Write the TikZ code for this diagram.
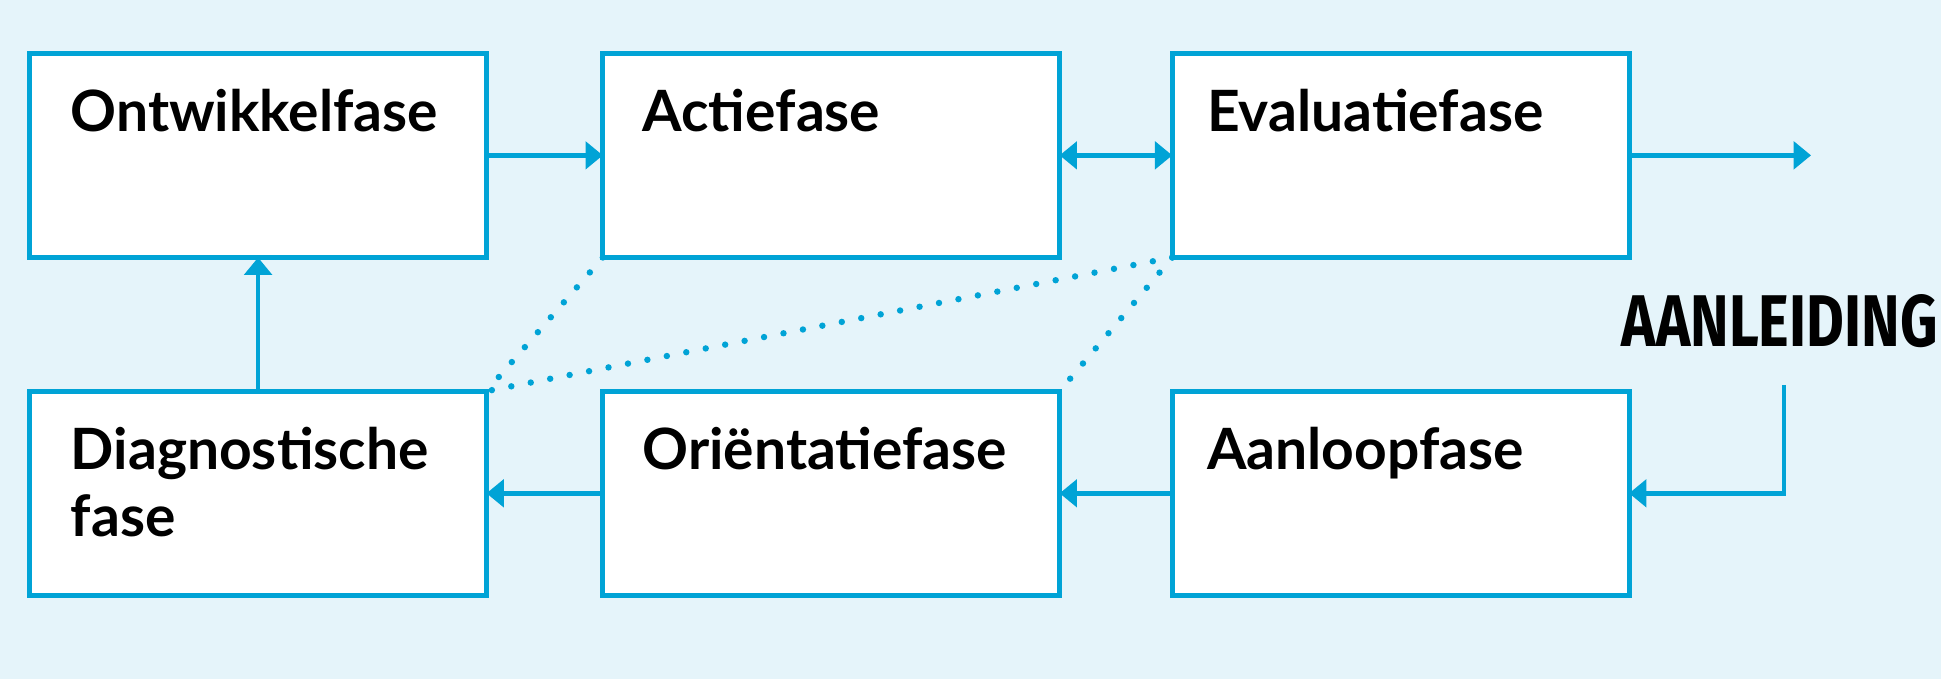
\documentclass[tikz,border=0pt]{standalone}
\usepackage{fontspec}
\setmainfont{Lato}
\newfontfamily\tagfont{Fira Sans}
\usetikzlibrary{arrows.meta,calc}
\definecolor{bgc}{HTML}{E5F4FA}
\definecolor{linec}{HTML}{00A3D6}
\begin{document}
\begin{tikzpicture}[x=1pt,y=-1pt,
  phasebox/.style={draw=linec,fill=white,line width=4pt,minimum width=369pt,minimum height=165pt,inner sep=0pt,outer sep=0pt,anchor=north west},
  lbl/.style={anchor=base west,inner sep=0pt,font=\fontsize{46}{54}\selectfont\bfseries,text=black,align=left},
  conn/.style={draw=linec,line width=3.6pt,-{Triangle[length=14pt,width=22pt]}},
  dconn/.style={draw=linec,line width=3.6pt,{Triangle[length=14pt,width=22pt]}-{Triangle[length=14pt,width=22pt]}},
  dotl/.style={draw=linec,line width=5.2pt,line cap=round,dash pattern=on 0pt off 16pt}]
\fill[bgc] (0,0) rectangle (1568,548.5);
\useasboundingbox (0,0) rectangle (1568,548.5);
\node[phasebox] (b1) at (24,43) {};
\node[phasebox] (b2) at (487,43) {};
\node[phasebox] (b3) at (947,43) {};
\node[phasebox] (b4) at (24,316) {};
\node[phasebox] (b5) at (487,316) {};
\node[phasebox] (b6) at (947,316) {};
\node[lbl] (t1) at ($(b1.north west)+(33,63)$) {Ontwikkelfase};
\node[lbl] (t2) at ($(b2.north west)+(32,63)$) {Actiefase};
\node[lbl] (t3) at ($(b3.north west)+(28,63)$) {Evaluatiefase};
\node[lbl] (t4) at ($(b4.north west)+(33,117)$) {Diagnostische\\fase};
\node[lbl] (t5) at ($(b5.north west)+(32,63)$) {Oriëntatiefase};
\node[lbl] (t6) at ($(b6.north west)+(28,63)$) {Aanloopfase};
\node[anchor=base west,inner sep=0pt] (tag) at (1310,280) {\resizebox{255pt}{42pt}{\tagfont\bfseries AANLEIDING}};
\coordinate (outend) at (1463,125.5);
\coordinate (tagstart) at (1441,311);
\draw[conn] (b1.east) -- (b2.west);
\draw[dconn] (b2.east) -- (b3.west);
\draw[conn] (b3.east) -- (b3.east -| outend);
\draw[conn] (b4.north) -- (b1.south);
\draw[conn] (b5.west) -- (b4.east);
\draw[conn] (b6.west) -- (b5.east);
\draw[conn] (tagstart) |- (b6.east);
\draw[dotl] (b2.south west) -- (b4.north east);
\draw[dotl] (b3.south west) -- (b4.north east);
\draw[dotl] (b3.south west) -- (b5.north east);
\end{tikzpicture}
\end{document}
